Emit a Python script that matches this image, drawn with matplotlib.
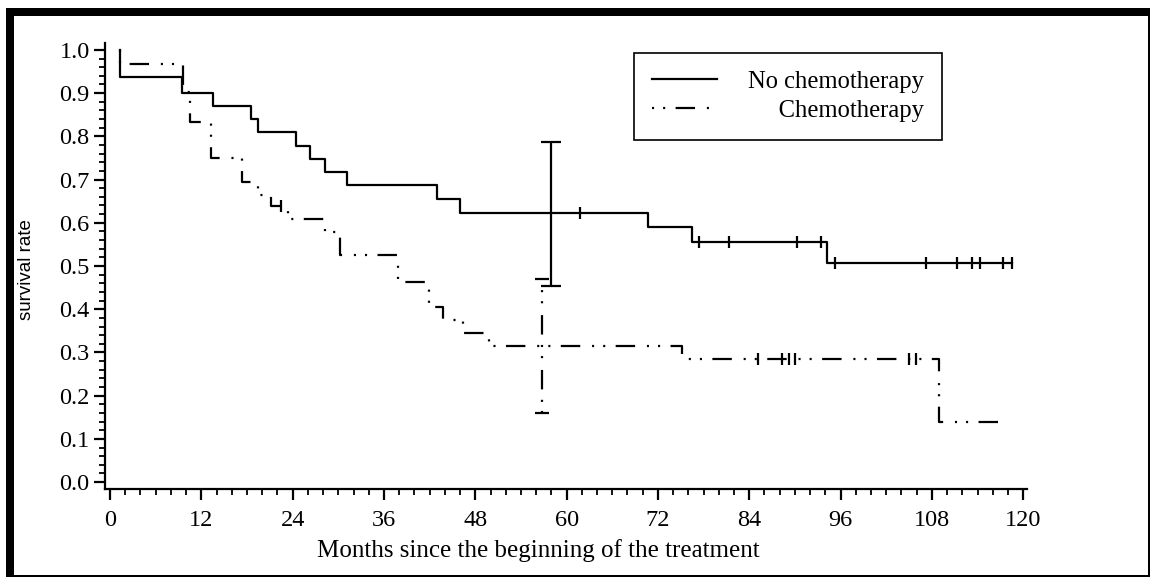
import matplotlib
matplotlib.use("Agg")
import matplotlib.pyplot as plt
from matplotlib.patches import Rectangle
from matplotlib.ticker import MultipleLocator, FormatStrFormatter

plt.rcParams['font.family'] = ['Liberation Serif', 'DejaVu Serif']
plt.rcParams['lines.scale_dashes'] = False

# Kaplan-Meier steps (months, survival after the step)
no_chemo_t = [1.3, 1.3, 9.5, 13.5, 18.5, 19.5, 24.4, 26.3, 28.3, 31.2, 43.0, 46.0, 70.7, 76.5, 94.2, 118.5]
no_chemo_s = [1.0, 0.938, 0.901, 0.870, 0.840, 0.811, 0.778, 0.747, 0.718, 0.688, 0.655, 0.623, 0.590, 0.556, 0.507, 0.507]
no_chemo_cens_t = [61.8, 77.4, 81.3, 90.3, 93.4, 95.3, 107.2, 111.3, 113.3, 114.3, 117.3, 118.5]
no_chemo_cens_s = [0.623, 0.556, 0.556, 0.556, 0.556, 0.507, 0.507, 0.507, 0.507, 0.507, 0.507, 0.507]
no_chemo_ci = (57.9, 0.623, 0.454, 0.787)  # month, estimate, lower, upper

chemo_t = [1.3, 1.3, 9.55, 10.5, 13.3, 17.4, 19.5, 21.2, 23.4, 28.2, 30.2, 37.9, 41.9, 43.8, 46.4, 49.8, 75.1, 109.0, 118.0]
chemo_s = [1.0, 0.967, 0.903, 0.834, 0.749, 0.695, 0.664, 0.639, 0.609, 0.579, 0.525, 0.464, 0.405, 0.375, 0.345, 0.315, 0.284, 0.140, 0.140]
chemo_cens_t = [22.5, 85.2, 88.3, 89.2, 90.0, 105.0, 105.9]
chemo_cens_s = [0.639, 0.284, 0.284, 0.284, 0.284, 0.284, 0.284]
chemo_ci = (56.8, 0.315, 0.161, 0.470)

labels = ["No chemotherapy", "     Chemotherapy"]

dashdotdot = (0, (1.5, 6.5, 1.5, 7.5, 14, 8.5))

fig = plt.figure(figsize=(11.5, 5.77), dpi=100)

# black frame round the picture
fig.patches.append(Rectangle((6 / 1150, 0), 1 - 6 / 1150, 1 - 8 / 577, transform=fig.transFigure,
                             facecolor='black', edgecolor='none', zorder=-3))
fig.patches.append(Rectangle((14 / 1150, 2 / 577), (1148 - 14) / 1150, (575 - 16) / 577, transform=fig.transFigure,
                             facecolor='white', edgecolor='none', zorder=-2))

ax = fig.add_axes([105 / 1150, 1 - 489 / 577, 922 / 1150, 446 / 577])
ax.set_facecolor('none')

l1, = ax.step(no_chemo_t, no_chemo_s, where='post', color='black', lw=1.6)
ax.plot(no_chemo_cens_t, no_chemo_cens_s, ls='none', marker='|', ms=8, mew=1.6, color='black')
x, y, lo, hi = no_chemo_ci
ax.errorbar([x], [y], yerr=[[y - lo], [hi - y]], fmt='none', ecolor='black', elinewidth=1.6, capsize=7, capthick=1.6)

l2, = ax.step(chemo_t, chemo_s, where='post', color='black', lw=1.6, linestyle=dashdotdot)
ax.plot(chemo_cens_t, chemo_cens_s, ls='none', marker='|', ms=8, mew=1.6, color='black')
x, y, lo, hi = chemo_ci
eb = ax.errorbar([x], [y], yerr=[[y - lo], [hi - y]], fmt='none', ecolor='black', elinewidth=1.6, capsize=5, capthick=1.6)
eb[2][0].set_linestyle(dashdotdot)

ax.set_xlim(-0.66, 120.5)
ax.set_ylim(-0.016, 1.016)
ax.set_xticks(range(0, 121, 12))
ax.xaxis.set_minor_locator(MultipleLocator(2))
ax.yaxis.set_major_locator(MultipleLocator(0.1))
ax.yaxis.set_minor_locator(MultipleLocator(0.02))
ax.yaxis.set_major_formatter(FormatStrFormatter('%.1f'))

for side in ['top', 'right']:
    ax.spines[side].set_visible(False)
for side in ['left', 'bottom']:
    ax.spines[side].set_linewidth(1.6)

ax.tick_params(which='major', length=8, width=1.6, labelsize=17.5)
ax.tick_params(which='minor', length=4, width=1.3)
ax.tick_params(axis='x', which='major', pad=7)
ax.tick_params(axis='y', which='major', pad=3)

ax.set_xlabel("Months since the beginning of the treatment", fontsize=18)
ax.xaxis.set_label_coords(0.470, -0.113)
ax.set_ylabel("survival rate", fontsize=13.5, family=['Liberation Sans', 'DejaVu Sans'])
ax.yaxis.set_label_coords(-0.076, 0.493)

leg = ax.legend([l1, l2], labels, loc='upper left', bbox_to_anchor=(0.574, 0.978), borderaxespad=0,
                fancybox=False, edgecolor='black', framealpha=1, fontsize=17.7,
                handlelength=2.65, handletextpad=1.25, borderpad=0.72, labelspacing=0.28)
leg.get_frame().set_linewidth(1.2)

fig.savefig("out.png", dpi=100)
